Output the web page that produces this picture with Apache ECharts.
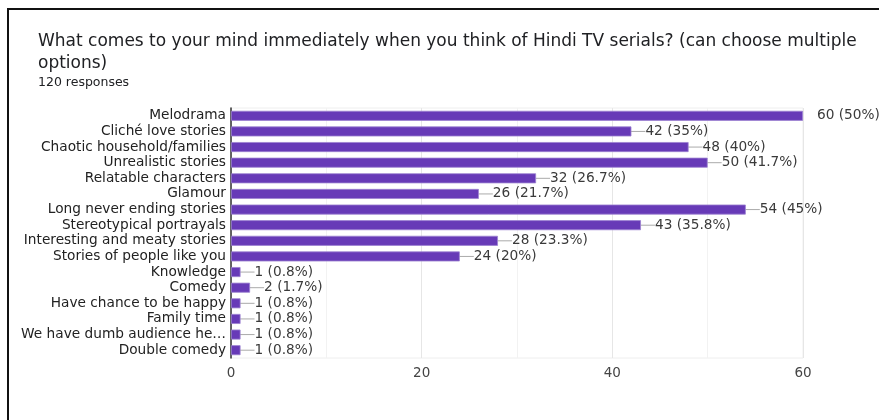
<!DOCTYPE html>
<html>
<head>
<meta charset="utf-8">
<script src="https://cdn.jsdelivr.net/npm/echarts@6/dist/echarts.min.js"></script>
<style>
  html, body { margin: 0; padding: 0; background: #fff; }
  #chart { width: 879px; height: 420px; }
</style>
</head>
<body>
<div id="chart"></div>
<script>
// Survey answers, in the order they appear from top to bottom
const categories = [
  'Melodrama',
  'Cliché love stories',
  'Chaotic household/families',
  'Unrealistic stories',
  'Relatable characters',
  'Glamour',
  'Long never ending stories',
  'Stereotypical portrayals',
  'Interesting and meaty stories',
  'Stories of people like you',
  'Knowledge',
  'Comedy',
  'Have chance to be happy',
  'Family time',
  'We have dumb audience he…',
  'Double comedy'
];
const counts = [60, 42, 48, 50, 32, 26, 54, 43, 28, 24, 1, 2, 1, 1, 1, 1];
const percents = ['50%', '35%', '40%', '41.7%', '26.7%', '21.7%', '45%', '35.8%', '23.3%', '20%',
  '0.8%', '1.7%', '0.8%', '0.8%', '0.8%', '0.8%'];
const xTicks = [0, 20, 40, 60];

const titleLine1 = 'What comes to your mind immediately when you think of Hindi TV serials? (can choose multiple';
const titleLine2 = 'options)';
const subtitle = '120 responses';

const FONT = '"DejaVu Sans", sans-serif';
const chart = echarts.init(document.getElementById('chart'), null, { renderer: 'canvas' });

const barData = counts.map((v) => {
  const item = { value: v };
  if (v === 60) {
    item.labelLine = { show: false };
  }
  return item;
});

chart.setOption({
  animation: false,
  backgroundColor: '#ffffff',
  graphic: [
    {
      type: 'polyline',
      shape: { points: [[8, 430], [8, 9], [890, 9]] },
      style: { stroke: '#111', lineWidth: 2, fill: null }
    },
    {
      type: 'text', left: 38, top: 33,
      style: { text: titleLine1, font: '17px ' + FONT, fill: '#202124' }
    },
    {
      type: 'text', left: 38, top: 55,
      style: { text: titleLine2, font: '17px ' + FONT, fill: '#202124' }
    },
    {
      type: 'text', left: 38, top: 76,
      style: { text: subtitle, font: '12.5px ' + FONT, fill: '#202124' }
    }
  ],
  grid: { left: 231, right: 76, top: 108, bottom: 62, show: true, borderColor: '#eeeeee', borderWidth: 1 },
  xAxis: {
    type: 'value',
    min: 0, max: 60, interval: 10,
    axisLine: { show: false },
    axisTick: { show: false },
    axisLabel: {
      color: '#444', fontFamily: FONT, fontSize: 13.5, margin: 8,
      formatter: v => xTicks.indexOf(v) >= 0 ? String(v) : ''
    },
    splitLine: {
      show: true,
      lineStyle: { color: ['#e6e6e6', '#f2f2f2', '#e6e6e6', '#f2f2f2', '#e6e6e6', '#f2f2f2', '#e6e6e6'], width: 1 }
    }
  },
  yAxis: {
    type: 'category',
    data: categories,
    inverse: true,
    axisLine: { show: true, lineStyle: { color: '#333', width: 1.5 } },
    axisTick: { show: false },
    axisLabel: { color: '#222', fontFamily: FONT, fontSize: 13.7, margin: 5, interval: 0 },
    splitLine: { show: false }
  },
  series: [{
    type: 'bar',
    data: barData,
    barWidth: 10,
    itemStyle: { color: '#673ab7', borderColor: '#9c82d0', borderWidth: 0.8 },
    label: {
      show: true,
      position: 'right',
      distance: 2,
      color: '#3a3a3a',
      fontFamily: FONT,
      fontSize: 13.7,
      formatter: p => p.value + ' (' + percents[p.dataIndex] + ')'
    },
    labelLayout: { dx: 12 },
    labelLine: { show: true, lineStyle: { color: '#aaaaaa', width: 1 } }
  }]
});
</script>
</body>
</html>
